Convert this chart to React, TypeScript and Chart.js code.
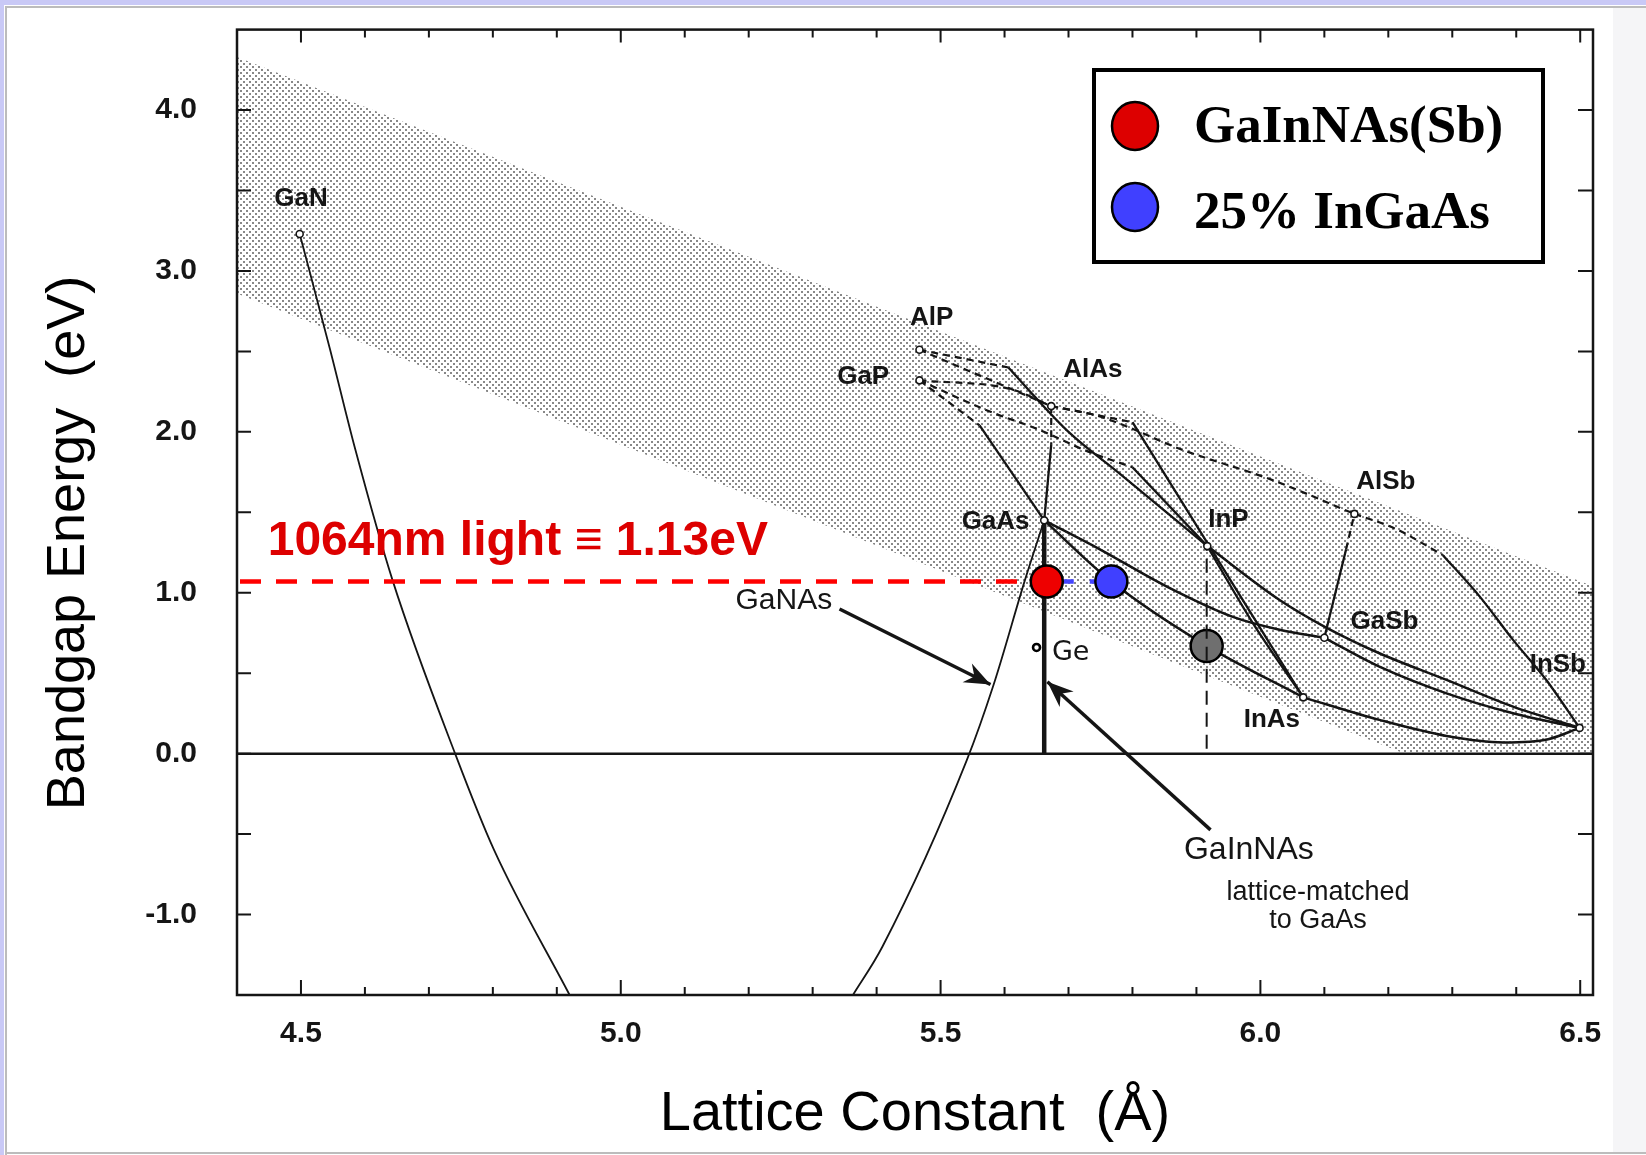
import React, { useEffect, useRef } from "react";
import { Chart, registerables } from "chart.js";
Chart.register(...registerables);

const W = 1646, H = 1155;
const SANS = "'Liberation Sans', Arial, Helvetica, sans-serif";
const SERIF = "'Liberation Serif', 'Times New Roman', serif";

// ---- axes ----
const xTickValues = [4.5, 5.0, 5.5, 6.0, 6.5];
const yTickValues = [-1, 0, 1, 2, 3, 4];
const xTitle = "Lattice Constant  (Å)";
const yTitle = "Bandgap Energy  (eV)";

// ---- shaded band (stippled region) ----
const bandA = [4.4, 6.52, 6.52, 6.226, 4.4];
const bandEg = [4.33, 1.04, 0, 0, 2.86];

// ---- binary compounds as drawn (lattice constant Å, bandgap eV) ----
const binaryA = [4.498, 5.467, 5.467, 5.673, 5.662, 5.917, 6.147, 6.100, 6.067, 6.499];
const binaryEg = [3.23, 2.51, 2.32, 2.16, 1.45, 1.29, 1.49, 0.72, 0.35, 0.16];
const geA = [5.650];
const geEg = [0.66];

// ---- GaNAs curves & GaInNAs lattice-matched line ----
const ganasLeftA = [4.498, 4.545, 4.585, 4.643, 4.741, 4.802, 4.92];
const ganasLeftEg = [3.23, 2.52, 1.89, 1.08, 0.0, -0.6, -1.5];
const ganasRightA = [5.363, 5.409, 5.541, 5.583, 5.632, 5.662];
const ganasRightEg = [-1.5, -1.2, -0.04, 0.43, 1.08, 1.45];
const gainnasLmA = [5.662, 5.662];
const gainnasLmEg = [0, 1.45];

// ---- indirect-gap (dashed) branches ----
const alinpIndA = [5.467, 5.606];
const alinpIndEg = [2.51, 2.40];
const alaspA = [5.467, 5.673];
const alaspEg = [2.51, 2.16];
const gapAlasA = [5.467, 5.61, 5.673];
const gapAlasEg = [2.32, 2.265, 2.16];
const gaaspIndA = [5.467, 5.561];
const gaaspIndEg = [2.32, 2.04];
const gainpIndA = [5.467, 5.577, 5.65, 5.731, 5.80];
const gainpIndEg = [2.32, 2.126, 2.02, 1.877, 1.78];
const algaasIndA = [5.673, 5.673];
const algaasIndEg = [2.16, 1.92];
const alinasIndA = [5.673, 5.80];
const alinasIndEg = [2.16, 2.06];
const alassbA = [5.673, 5.749, 5.879, 6.019, 6.147];
const alassbEg = [2.16, 2.095, 1.887, 1.70, 1.49];
const algasbIndA = [6.134, 6.147];
const algasbIndEg = [1.27, 1.49];
const alinsbIndA = [6.147, 6.21, 6.285];
const alinsbIndEg = [1.49, 1.40, 1.235];

// ---- direct-gap (solid) branches ----
const alinpA = [5.606, 5.64, 5.70, 5.78, 5.917];
const alinpEg = [2.40, 2.25, 2.00, 1.74, 1.29];
const gaaspA = [5.561, 5.662];
const gaaspEg = [2.04, 1.45];
const algaasA = [5.662, 5.673];
const algaasEg = [1.45, 1.92];
const gainpA = [5.80, 5.917];
const gainpEg = [1.78, 1.29];
const alinasA = [5.80, 5.917, 6.067];
const alinasEg = [2.06, 1.31, 0.35];
const inaspA = [5.917, 5.99, 6.067];
const inaspEg = [1.29, 0.80, 0.35];
const ingaasA = [5.662, 5.767, 5.916, 6.067];
const ingaasEg = [1.45, 1.07, 0.67, 0.35];
const gaassbA = [5.662, 5.749, 5.853, 5.957, 6.03, 6.10];
const gaassbEg = [1.45, 1.27, 1.04, 0.85, 0.77, 0.72];
const inpsbA = [5.917, 6.03, 6.10, 6.186, 6.291, 6.395, 6.499];
const inpsbEg = [1.29, 0.955, 0.79, 0.624, 0.458, 0.292, 0.16];
const gainsbA = [6.10, 6.186, 6.291, 6.395, 6.499];
const gainsbEg = [0.72, 0.541, 0.375, 0.251, 0.16];
const algasbA = [6.10, 6.134];
const algasbEg = [0.72, 1.27];
const alinsbA = [6.285, 6.343, 6.395, 6.447, 6.499];
const alinsbEg = [1.235, 0.976, 0.707, 0.458, 0.16];
const inassbA = [6.067, 6.186, 6.291, 6.38, 6.45, 6.499];
const inassbEg = [0.35, 0.21, 0.11, 0.07, 0.09, 0.16];

// ---- highlighted materials ----
const seriesLabels = ["GaInNAs(Sb)", "25% InGaAs"];
const gainnasDotA = [5.666];
const gainnasDotEg = [1.07];
const ingaasDotA = [5.767];
const ingaasDotEg = [1.07];
const ingaasInPDotA = [5.916];
const ingaasInPDotEg = [0.669];
const laserLineA = [4.4, 5.666];
const laserLineEg = [1.07, 1.07];
const blueLineA = [5.666, 5.767];
const blueLineEg = [1.07, 1.07];
const inpLmA = [5.916, 5.916];
const inpLmEg = [0.03, 1.265];

// ---- text annotations ----
const binaryLabels = ["GaN", "AlP", "GaP", "AlAs", "GaAs", "InP", "AlSb", "GaSb", "InAs", "InSb"];
const binaryLabelA = [4.500, 5.486, 5.379, 5.738, 5.586, 5.950, 6.196, 6.194, 6.018, 6.465];
const binaryLabelEg = [3.447, 2.708, 2.343, 2.385, 1.442, 1.452, 1.690, 0.820, 0.209, 0.551];
const laserText = "1064nm light \u2261 1.13eV";

const pts = (a: number[], e: number[]) => a.map((x, i) => ({ x, y: e[i] }));

export default function App() {
  const ref = useRef<HTMLCanvasElement>(null);

  useEffect(() => {
    const canvas = ref.current!;
    const pc = document.createElement("canvas");
    pc.width = 6;
    pc.height = 6;
    const pctx = pc.getContext("2d")!;
    pctx.fillStyle = "rgba(75,75,75,0.66)";
    pctx.fillRect(0, 0, 2, 2);
    pctx.fillRect(3, 3, 2, 2);
    const pattern = canvas.getContext("2d")!.createPattern(pc, "repeat")!;

    const ink = "#151515";
    const solid = (a: number[], e: number[], w = 2.3) => ({
      data: pts(a, e), showLine: true, pointRadius: 0, borderColor: ink, borderWidth: w,
      fill: false, cubicInterpolationMode: "monotone" as const, order: 10,
    });
    const dashed = (a: number[], e: number[]) => ({
      ...solid(a, e, 2.2), borderDash: [7, 5],
    });

    const decor = {
      id: "decor",
      beforeDraw(chart: any) {
        const ctx = chart.ctx;
        ctx.save();
        ctx.fillStyle = "#ffffff";
        ctx.fillRect(0, 0, W, H);
        ctx.fillStyle = "#f5f5f7";
        ctx.fillRect(1613, 8, W - 1613, H - 11);
        ctx.fillStyle = "#c9c9f6";
        ctx.fillRect(0, 0, W, 5);
        ctx.fillRect(0, 0, 4, H);
        ctx.fillStyle = "#bcbcbc";
        ctx.fillRect(6, 6, W - 6, 2);
        ctx.fillRect(5, 6, 2, H - 6);
        ctx.fillRect(5, H - 3, W, 2);
        ctx.restore();
      },
      afterDatasetsDraw(chart: any) {
        const ctx = chart.ctx;
        const xs = chart.scales.x, ys = chart.scales.y;
        const px = (a: number) => xs.getPixelForValue(a);
        const py = (e: number) => ys.getPixelForValue(e);
        const { left, right, top, bottom } = chart.chartArea;
        ctx.save();
        ctx.strokeStyle = ink;
        ctx.lineWidth = 2.5;
        ctx.strokeRect(left, top, right - left, bottom - top);
        // zero line
        ctx.beginPath();
        ctx.moveTo(left, py(0));
        ctx.lineTo(right, py(0));
        ctx.stroke();
        // y ticks (every 0.5)
        ctx.lineWidth = 2;
        for (let v = -1.0; v <= 4.01; v += 0.5) {
          const y = py(v);
          ctx.beginPath();
          ctx.moveTo(left, y); ctx.lineTo(left + 14, y);
          ctx.moveTo(right, y); ctx.lineTo(right - 15, y);
          ctx.stroke();
        }
        // x ticks
        for (let i = 45; i <= 65; i++) {
          const v = i / 10;
          const x = px(v);
          const major = i % 5 === 0;
          ctx.beginPath();
          ctx.moveTo(x, bottom); ctx.lineTo(x, bottom - (major ? 15 : 8));
          ctx.moveTo(x, top); ctx.lineTo(x, top + (major ? 13 : 8));
          ctx.stroke();
        }
        // arrows
        const arrow = (a0: number, e0: number, a1: number, e1: number) => {
          const x0 = px(a0), y0 = py(e0), x1 = px(a1), y1 = py(e1);
          ctx.lineWidth = 3.5;
          ctx.beginPath(); ctx.moveTo(x0, y0); ctx.lineTo(x1, y1); ctx.stroke();
          const ang = Math.atan2(y1 - y0, x1 - x0);
          ctx.fillStyle = ink;
          ctx.beginPath();
          ctx.moveTo(x1, y1);
          ctx.lineTo(x1 - 28 * Math.cos(ang - 0.38), y1 - 28 * Math.sin(ang - 0.38));
          ctx.lineTo(x1 - 18 * Math.cos(ang), y1 - 18 * Math.sin(ang));
          ctx.lineTo(x1 - 28 * Math.cos(ang + 0.38), y1 - 28 * Math.sin(ang + 0.38));
          ctx.closePath();
          ctx.fill();
        };
        arrow(5.342, 0.899, 5.578, 0.43);
        arrow(5.922, -0.474, 5.667, 0.447);

        // binary labels
        ctx.fillStyle = ink;
        ctx.textBaseline = "middle";
        ctx.textAlign = "center";
        ctx.font = `bold 26px ${SANS}`;
        binaryLabels.forEach((t, i) => ctx.fillText(t, px(binaryLabelA[i]), py(binaryLabelEg[i])));
        ctx.font = `30px ${SANS}`;
        ctx.fillText("GaNAs", px(5.255), py(0.952));
        ctx.font = `32px ${SANS}`;
        ctx.fillText("GaInNAs", px(5.982), py(-0.598));
        ctx.font = `27px ${SANS}`;
        ctx.fillText("lattice-matched", px(6.09), py(-0.866));
        ctx.fillText("to GaAs", px(6.09), py(-1.037));
        ctx.textAlign = "left";
        ctx.font = `27px 'DejaVu Sans', sans-serif`;
        ctx.fillText("Ge", px(5.674), py(0.626));
        // laser text
        ctx.textBaseline = "alphabetic";
        ctx.fillStyle = "#dd0000";
        ctx.font = `bold 48px ${SANS}`;
        ctx.fillText(laserText, px(4.448), py(1.235));
        // y title
        ctx.save();
        ctx.translate(84, 543);
        ctx.rotate(-Math.PI / 2);
        ctx.textAlign = "center";
        ctx.fillStyle = "#000";
        ctx.font = `54px ${SANS}`;
        ctx.fillText(yTitle, 0, 0);
        ctx.restore();
        ctx.restore();
      },
      afterDraw(chart: any) {
        const ctx = chart.ctx;
        ctx.save();
        ctx.fillStyle = "#fff";
        ctx.fillRect(1094, 70, 449, 192);
        ctx.lineWidth = 4;
        ctx.strokeStyle = "#000";
        ctx.strokeRect(1094, 70, 449, 192);
        const colors = ["#dd0000", "#4040ff"];
        const cy = [126, 207];
        const ty = [128, 214];
        seriesLabels.forEach((t, i) => {
          ctx.beginPath();
          ctx.ellipse(1135, cy[i], 23, 24, 0, 0, Math.PI * 2);
          ctx.fillStyle = colors[i];
          ctx.fill();
          ctx.lineWidth = 2.5;
          ctx.stroke();
          ctx.fillStyle = "#000";
          ctx.font = `bold 53px ${SERIF}`;
          ctx.textBaseline = "middle";
          ctx.textAlign = "left";
          ctx.fillText(t, 1194, ty[i]);
        });
        ctx.restore();
      },
    };

    const chart = new Chart(canvas, {
      type: "scatter",
      data: {
        datasets: [
          { data: pts(bandA, bandEg), showLine: true, pointRadius: 0, borderWidth: 0, borderColor: "rgba(0,0,0,0)", backgroundColor: pattern, fill: "shape", order: 100 } as any,
          solid(ganasLeftA, ganasLeftEg, 1.8),
          solid(ganasRightA, ganasRightEg, 1.8),
          solid(gainnasLmA, gainnasLmEg, 4.5),
          dashed(alinpIndA, alinpIndEg),
          dashed(alaspA, alaspEg),
          dashed(gapAlasA, gapAlasEg),
          dashed(gaaspIndA, gaaspIndEg),
          dashed(gainpIndA, gainpIndEg),
          dashed(algaasIndA, algaasIndEg),
          dashed(alinasIndA, alinasIndEg),
          dashed(alassbA, alassbEg),
          dashed(algasbIndA, algasbIndEg),
          dashed(alinsbIndA, alinsbIndEg),
          solid(alinpA, alinpEg),
          solid(gaaspA, gaaspEg),
          solid(algaasA, algaasEg),
          solid(gainpA, gainpEg),
          solid(alinasA, alinasEg),
          solid(inaspA, inaspEg),
          solid(ingaasA, ingaasEg, 2.5),
          solid(gaassbA, gaassbEg, 2.5),
          solid(inpsbA, inpsbEg, 2.5),
          solid(gainsbA, gainsbEg, 2.5),
          solid(algasbA, algasbEg),
          solid(alinsbA, alinsbEg),
          solid(inassbA, inassbEg, 2.5),
          { data: pts(binaryA, binaryEg), pointRadius: 3.5, pointBackgroundColor: "#fff", pointBorderColor: ink, pointBorderWidth: 1.6, order: 5 },
          { data: pts(geA, geEg), pointRadius: 3.5, pointBackgroundColor: "#fff", pointBorderColor: "#000", pointBorderWidth: 2.6, order: 5 },
          { data: pts(laserLineA, laserLineEg), showLine: true, pointRadius: 0, borderColor: "#ff0000", borderWidth: 4.5, borderDash: [21, 15], borderDashOffset: -3, order: 4 },
          { data: pts(blueLineA, blueLineEg), showLine: true, pointRadius: 0, borderColor: "#4444ff", borderWidth: 4.5, borderDash: [12, 16], borderDashOffset: 13, order: 4 },
          { label: "InGaAs on InP", data: pts(ingaasInPDotA, ingaasInPDotEg), pointRadius: 16, pointBackgroundColor: "#6f6f6f", pointBorderColor: "#000", pointBorderWidth: 2.5, order: 3 },
          { data: pts(inpLmA, inpLmEg), showLine: true, pointRadius: 0, borderColor: ink, borderWidth: 2, borderDash: [14, 8], order: 2 },
          { label: seriesLabels[0], data: pts(gainnasDotA, gainnasDotEg), pointRadius: 16, pointBackgroundColor: "#ee0000", pointBorderColor: "#000", pointBorderWidth: 2.5, order: 1 },
          { label: seriesLabels[1], data: pts(ingaasDotA, ingaasDotEg), pointRadius: 16, pointBackgroundColor: "#4040ff", pointBorderColor: "#000", pointBorderWidth: 2.5, order: 1 },
        ],
      },
      options: {
        responsive: false,
        animation: false,
        devicePixelRatio: 1,
        layout: { padding: { left: 0, top: 29.6, right: 53, bottom: 0 } },
        plugins: { legend: { display: false }, tooltip: { enabled: false } },
        scales: {
          x: {
            type: "linear", min: 4.4, max: 6.52,
            afterBuildTicks: (s: any) => { s.ticks = xTickValues.map((v) => ({ value: v })); },
            afterFit: (s: any) => { s.height = 160; s.paddingLeft = 0; s.paddingRight = 0; },
            ticks: { callback: (v: any) => Number(v).toFixed(1), font: { family: SANS, size: 30, weight: "bold" }, color: ink, padding: 21, maxRotation: 0, autoSkip: false },
            grid: { display: false, drawTicks: false },
            border: { display: false },
            title: { display: true, text: xTitle, color: "#000", font: { family: SANS, size: 56, lineHeight: 1.2 }, padding: { top: 0, bottom: 7 } },
          },
          y: {
            type: "linear", min: -1.5, max: 4.5,
            afterBuildTicks: (s: any) => { s.ticks = yTickValues.map((v) => ({ value: v })); },
            afterFit: (s: any) => { s.width = 237; s.paddingTop = 0; s.paddingBottom = 0; },
            ticks: { callback: (v: any) => Number(v).toFixed(1), font: { family: SANS, size: 30, weight: "bold" }, color: ink, padding: 40, autoSkip: false },
            grid: { display: false, drawTicks: false },
            border: { display: false },
          },
        },
      } as any,
      plugins: [decor],
    });
    return () => chart.destroy();
  }, []);

  return (
    <div style={{ position: "fixed", left: 0, top: 0, width: W, height: H, background: "#fff" }}>
      <canvas ref={ref} width={W} height={H} style={{ display: "block", width: W, height: H }} />
    </div>
  );
}
